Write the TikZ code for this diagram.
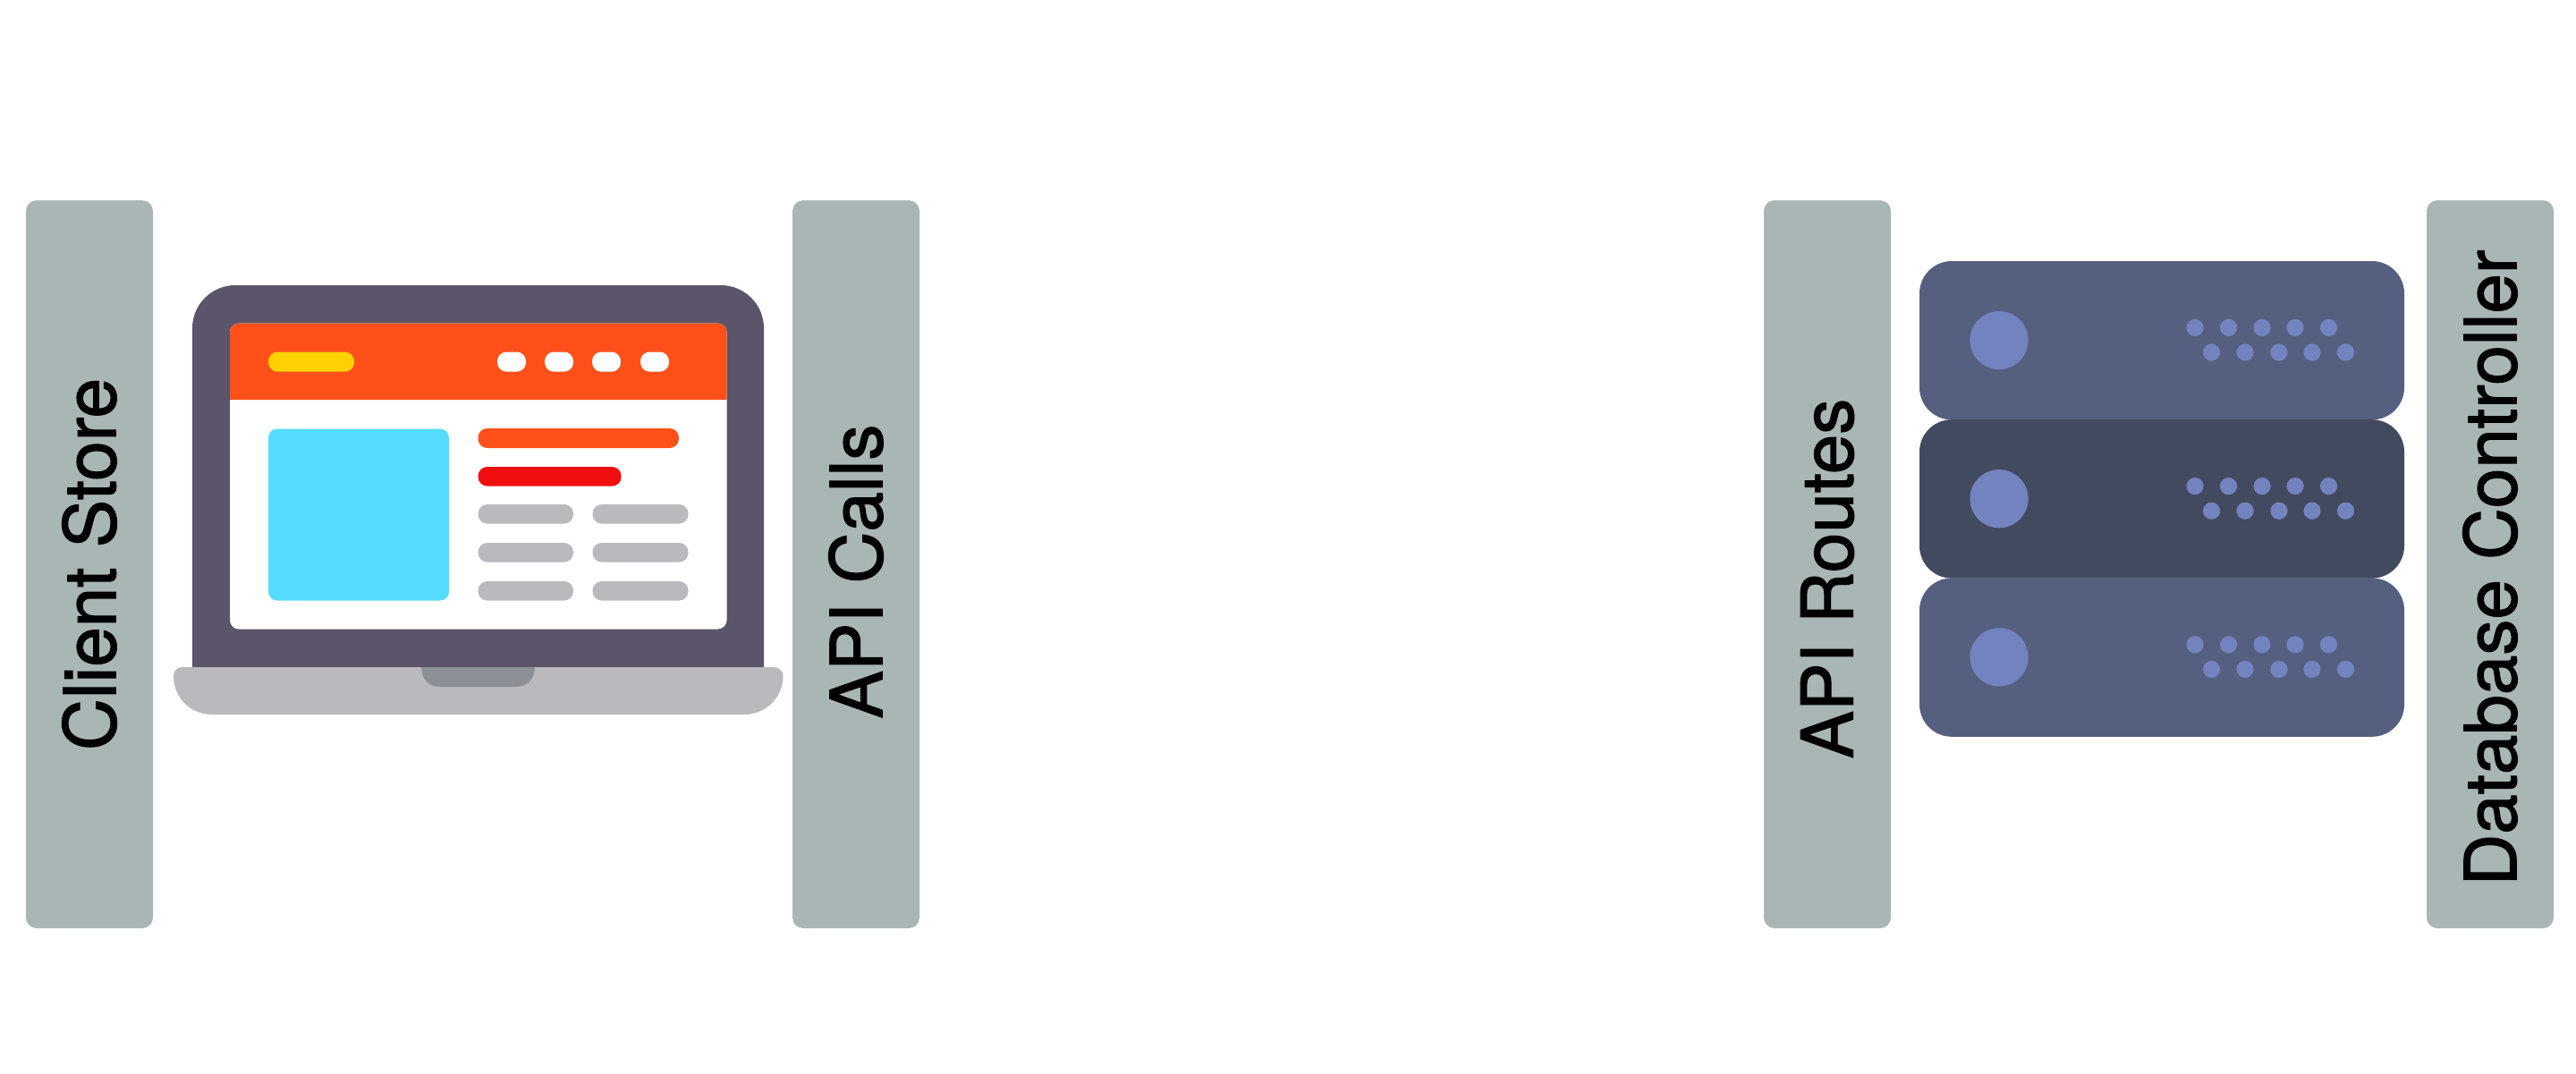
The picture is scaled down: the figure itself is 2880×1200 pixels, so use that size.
\documentclass[tikz,border=0pt]{standalone}
\usepackage{fontspec}
\setmainfont[FakeBold=1.6]{TeX Gyre Heros}
\usepackage{xcolor}
\definecolor{barGrey}{HTML}{A9B6B6}
\definecolor{lidPurple}{HTML}{5C546A}
\definecolor{webOrange}{HTML}{FF5019}
\definecolor{webYellow}{HTML}{FFD200}
\definecolor{webCyan}{HTML}{55DCFF}
\definecolor{webRed}{HTML}{F00F0F}
\definecolor{pillGrey}{HTML}{B9B9BE}
\definecolor{notchGrey}{HTML}{8C8F96}
\definecolor{rackBlue}{HTML}{556080}
\definecolor{rackDark}{HTML}{424A60}
\definecolor{ledBlue}{HTML}{7383BF}
\tikzset{
    sidebar/.style={fill=barGrey, rounded corners=3pt, rotate=90, inner sep=0pt,
        minimum width=203.5pt, minimum height=35.5pt, font=\fontsize{20pt}{24pt}\selectfont},
    pill/.style={rounded corners=2.6pt}
}

\begin{document}
\begin{tikzpicture}[x=0.25pt, y=-0.25pt]
    \useasboundingbox (0,0) rectangle (2880,1200);

    \node[sidebar] (clientStore) at (100,631) {Client Store};
    \node[sidebar] (apiCalls) at (957,631) {\hspace*{-4pt}API Calls};
    \node[sidebar] (apiRoutes) at (2043,631) {\hspace*{-8pt}API Routes};
    \node[sidebar] (dbController) at (2784,631) {\hspace*{-2pt}Database Controller};

    % laptop
    \fill[lidPurple] (215,746) [rounded corners=12pt] -- (215,319) -- (854,319) [sharp corners] -- (854,746) -- cycle;
    \fill[white, rounded corners=2.5pt] (257,361.5) rectangle (812.5,703.5);
    \fill[webOrange] (257,447) [rounded corners=2.5pt] -- (257,361.5) -- (812.5,361.5) [sharp corners] -- (812.5,447) -- cycle;
    \fill[webYellow, pill] (300,393.5) rectangle (396,415.7);
    \foreach \x in {556,609,662,716}
        \fill[white, pill] (\x,393.5) rectangle +(32,22.2);
    \fill[webCyan, rounded corners=2.5pt] (300,479.5) rectangle (502,671.5);
    \fill[webOrange, pill] (534.5,479) rectangle (759,501);
    \fill[webRed, pill] (534.5,522) rectangle (694.6,543.6);
    \foreach \y in {564,607,650} {
        \fill[pillGrey, pill] (534.5,\y) rectangle +(106.5,21.6);
        \fill[pillGrey, pill] (662.5,\y) rectangle +(107,21.6);
    }
    \fill[pillGrey] (194,756) .. controls (194,750) and (198,746) .. (204,746) -- (865,746) .. controls (871,746) and (875.5,750) .. (875.5,756)
        .. controls (875.5,780) and (856,799) .. (832,799) -- (237,799) .. controls (213,799) and (194,780) .. (194,756) -- cycle;
    \fill[notchGrey] (471,746) -- (598,746) .. controls (598,759) and (590,768) .. (577,768) -- (492,768) .. controls (479,768) and (471,759) .. (471,746) -- cycle;

    % server rack
    \foreach \n/\col in {0/rackBlue, 2/rackBlue, 1/rackDark} {
        \begin{scope}[yshift=-44.3pt*\n]
            \fill[\col, rounded corners=9pt] (2146,292) rectangle (2688,469.4);
            \fill[ledBlue] (2235,380.5) circle[radius=8.15pt];
            \foreach \x in {2454,2491.5,2529,2566,2603.5}
                \fill[ledBlue] (\x,366.4) circle[radius=2.4pt];
            \foreach \x in {2472.5,2510,2548,2585,2622.5}
                \fill[ledBlue] (\x,394) circle[radius=2.4pt];
        \end{scope}
    }
\end{tikzpicture}
\end{document}
